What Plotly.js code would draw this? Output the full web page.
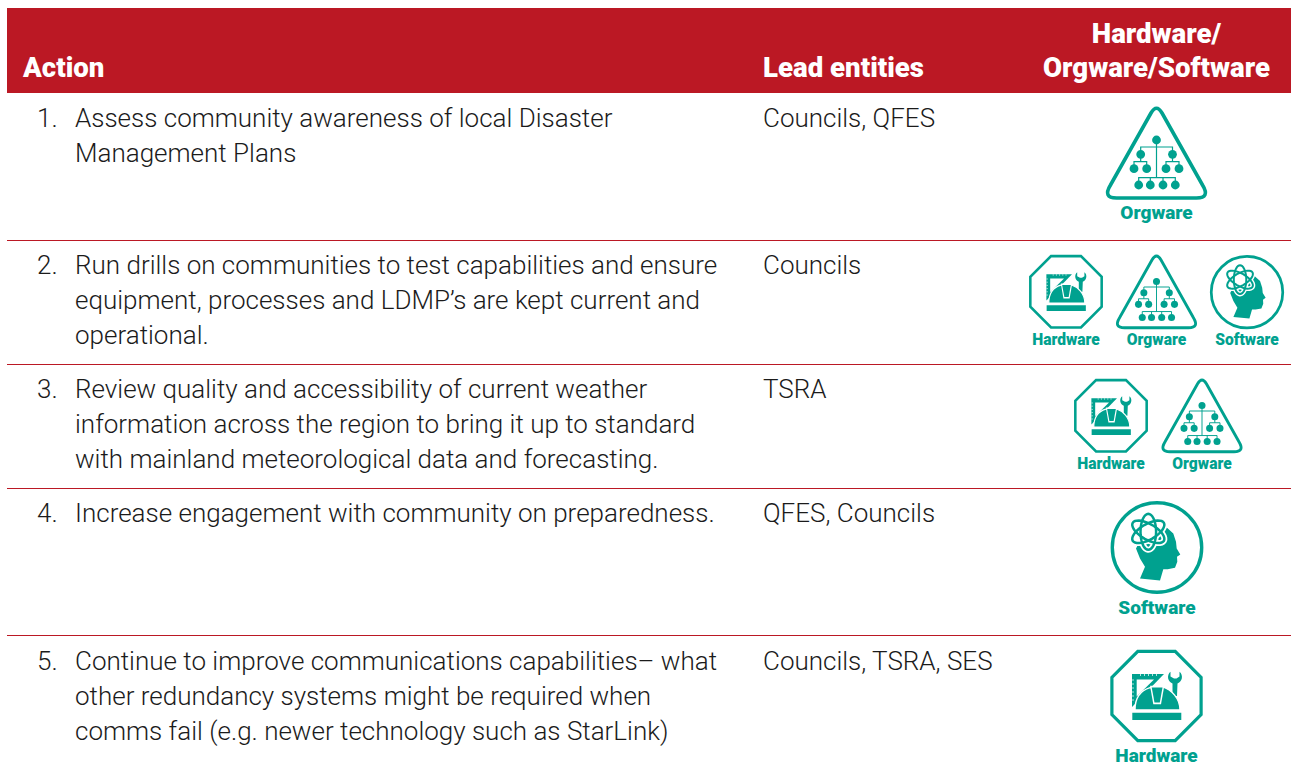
<!DOCTYPE html>
<html><head><meta charset="utf-8">
<script src="https://cdn.plot.ly/plotly-3.0.1.min.js"></script>
<style>html,body{margin:0;padding:0;background:#fff}#c{width:1291px;height:778px}</style>
</head><body><div id="c"></div>
<script>
const RED='#bb1824', TEAL='#00a18f', INK='#1b1b1b', BODY='Roboto, sans-serif', HEAD='Roboto, sans-serif';
const headers=['Action','Lead entities','Hardware/','Orgware/Software'];
const actionNumbers=['1.','2.','3.','4.','5.'];
const actionLines=[
 ['Assess community awareness of local Disaster','Management Plans'],
 ['Run drills on communities to test capabilities and ensure','equipment, processes and LDMP’s are kept current and','operational.'],
 ['Review quality and accessibility of current weather','information across the region to bring it up to standard','with mainland meteorological data and forecasting.'],
 ['Increase engagement with community on preparedness.'],
 ['Continue to improve communications capabilities– what','other redundancy systems might be required when','comms fail (e.g. newer technology such as StarLink)']];
const leadEntities=['Councils, QFES','Councils','TSRA','QFES, Councils','Councils, TSRA, SES'];
const rowTextY=[120.4,267.4,391.4,515.4,663.4];
const ruleY=[240,364,488,635];
const rowIcons=[
 [{k:'Orgware',x:1156.5,top:107,s:1,ly:214}],
 [{k:'Hardware',x:1066,top:255,s:.8,ly:341},{k:'Orgware',x:1156.5,top:255,s:.8,ly:341},{k:'Software',x:1247,top:255,s:.8,ly:341}],
 [{k:'Hardware',x:1111,top:379,s:.8,ly:465},{k:'Orgware',x:1202,top:379,s:.8,ly:465}],
 [{k:'Software',x:1157,top:501,s:1,ly:609}],
 [{k:'Hardware',x:1156.5,top:650,s:1,ly:757}]];

const shapes=[];
function xf(d,ox,oy,s){return d.replace(/(-?[\d.]+),(-?[\d.]+)/g,(m,a,b)=>(ox+a*s).toFixed(2)+','+(oy+b*s).toFixed(2));}
function P(d,ox,oy,s,o){shapes.push(Object.assign({type:'path',xref:'x',yref:'y',path:xf(d,ox,oy,s),line:{width:0,color:TEAL},fillcolor:'rgba(0,0,0,0)',layer:'above'},o));}
const fill=(c=TEAL)=>({fillcolor:c,line:{width:0}});
const stroke=(w,c=TEAL)=>({line:{width:w,color:c}});
function dot(x,y,r,ox,oy,s,c=TEAL){shapes.push({type:'circle',xref:'x',yref:'y',x0:ox+(x-r)*s,x1:ox+(x+r)*s,y0:oy+(y-r)*s,y1:oy+(y+r)*s,fillcolor:c,line:{width:0},layer:'above'});}
function ell(cx,cy,a,b,rot){const p=[];for(let i=0;i<36;i++){const t=i/36*2*Math.PI,r=rot*Math.PI/180,ex=a*Math.cos(t),ey=b*Math.sin(t);
  p.push((i?'L':'M')+(cx+ex*Math.cos(r)-ey*Math.sin(r)).toFixed(2)+','+(cy+ex*Math.sin(r)+ey*Math.cos(r)).toFixed(2));}return p.join(' ')+' Z';}

const draw={
 Orgware(ox,top,s){
  P('M-5.5,6 Q0,-3.5 5.5,6 L46,78 Q54,91 40,91 L-40,91 Q-54,91 -46,78 Z',ox,top,s,stroke(3.6*s));
  P('M0,33 L0,70.7 M-15.8,47 L-15.8,40 L16,40 L16,47 M-22.5,61 L-22.5,54.7 L-9.8,54.7 L-9.8,61 M9.5,61 L9.5,54.7 L22.5,54.7 L22.5,61 M-15.8,47 L-15.8,54.7 M16,47 L16,54.7 M-17.8,78 L-17.8,70.7 L18.8,70.7 L18.8,78 M-6.2,70.7 L-6.2,78 M6.5,70.7 L6.5,78',ox,top,s,stroke(1.2*s));
  [[0,33],[-15.8,47.3],[16,47.3],[-22.5,61.7],[-9.8,61.7],[9.5,61.7],[22.5,61.7],[-17.8,78],[-6.2,78],[6.5,78],[18.8,78]].forEach(n=>dot(n[0],n[1],4.4,ox,top,s));
 },
 Hardware(ox,top,s){
  const cy=top+46*s;
  P('M-18.7,-44.6 L18.7,-44.6 L44.6,-18.7 L44.6,18.7 L18.7,44.6 L-18.7,44.6 L-44.6,18.7 L-44.6,-18.7 Z',ox,cy,s,stroke(3.2*s));
  P('M-24.5,-22 L7.5,-22 L-24.5,11 Z',ox,cy,s,fill());
  P('M-19.8,-16.5 L-2.5,-16.5 L-19.8,0.5 Z',ox,cy,s,fill('#fff'));
  P('M-24.5,-16 L-22.5,-16 M-24.5,-12 L-22.5,-12 M-24.5,-8 L-22.5,-8 M-24.5,-4 L-22.5,-4 M-24.5,0 L-22.5,0 M-24.5,4 L-22.5,4 M-16,-22 L-16,-20 M-12,-22 L-12,-20 M-8,-22 L-8,-20 M-4,-22 L-4,-20 M0,-22 L0,-20',ox,cy,s,stroke(.7*s,'#fff'));
  P('M14,-24.3 L14,-19.5 L17.5,-17.5 L20,-17.5 L23,-19.5 L23,-24.3 C27,-21 26,-14.5 21,-12.5 L20.5,0 L16,0 L16,-12.5 C11,-14.5 10,-21 14,-24.3 Z',ox,cy,s,fill());
  P('M-21.5,14 C-21.5,0 -14,-6 -6.5,-8.3 L5.8,-9.3 C15,-6 23.5,2 23.5,14 Z',ox,cy,s,Object.assign(fill(),{line:{width:1.4*s,color:'#fff'}}));
  P('M-6.5,-10.3 L7.8,-10.3 L4.5,8.3 L-3.2,8.3 Z',ox,cy,s,fill('#fff'));
  P('M-4.8,-8.5 L6,-8.5 L3.3,6.6 L-2,6.6 Z',ox,cy,s,fill());
  P('M-24.2,16.7 L24.8,16.7 L24.8,24 L-24.2,24 Z',ox,cy,s,fill());
 },
 Software(ox,top,s){
  const cy=top+46.5*s;
  shapes.push({type:'circle',xref:'x',yref:'y',x0:ox-44.7*s,x1:ox+44.7*s,y0:cy-44.7*s,y1:cy+44.7*s,line:{width:3.4*s,color:TEAL},layer:'above'});
  P('M9.7,-20 L16.3,-14 L19,-5.7 L19.7,1 L23.3,7 L20,9.3 L20.3,14.3 L18,20.3 L10.7,21.7 L6.3,21.7 L3,33 L-17,31 L-12,19.3 L-17,11 L-21,1 L-10,-20 Z',ox,cy,s,fill());
  [30,90,150].forEach(r=>P(ell(-8.7,-15.7,18,7.8,r),ox,cy,s,stroke(6*s,'#fff')));
  dot(-8.7,-15.7,10,ox,cy,s,'#fff');
  [30,90,150].forEach(r=>P(ell(-8.7,-15.7,18,7.8,r),ox,cy,s,stroke(2.5*s)));
 }
};
shapes.push({type:'rect',xref:'x',yref:'y',x0:7,x1:1291,y0:8,y1:93,fillcolor:RED,line:{width:0},layer:'below'});
ruleY.forEach(y=>shapes.push({type:'line',xref:'x',yref:'y',x0:7,x1:1291,y0:y+.5,y1:y+.5,line:{width:1,color:RED},layer:'below'}));
const labX=[],labY=[],labT=[],labS=[];
rowIcons.forEach(r=>r.forEach(i=>{draw[i.k](i.x,i.top,i.s);labX.push(i.x);labY.push(i.ly);labT.push(i.k);labS.push(i.s==1?19:15.6);}));

const bx=[],by=[],bt=[];
actionLines.forEach((ls,r)=>{
  bx.push(37);by.push(rowTextY[r]);bt.push(actionNumbers[r]);
  ls.forEach((l,i)=>{bx.push(75);by.push(rowTextY[r]+i*34.9);bt.push(l);});
  bx.push(763);by.push(rowTextY[r]);bt.push(leadEntities[r]);
});
const common={type:'scatter',mode:'text',hoverinfo:'skip',showlegend:false,cliponaxis:false};
const data=[
 Object.assign({},common,{x:bx,y:by,text:bt,textposition:'middle right',textfont:{family:BODY,size:26,color:INK,weight:300}}),
 Object.assign({},common,{x:[23,763],y:[70,70],text:[headers[0],headers[1]],textposition:'middle right',textfont:{family:HEAD,size:27.6,color:'#fff',weight:900}}),
 Object.assign({},common,{x:[1156.5,1156.5],y:[36,70],text:[headers[2],headers[3]],textposition:'middle center',textfont:{family:HEAD,size:27.6,color:'#fff',weight:900}}),
 Object.assign({},common,{x:labX,y:labY,text:labT,textposition:'middle center',textfont:{family:HEAD,size:labS,color:TEAL,weight:900}})
];
const hidden={visible:false,fixedrange:true,autorange:false};
Plotly.newPlot('c',data,{width:1291,height:778,margin:{l:0,r:0,t:0,b:0},paper_bgcolor:'#fff',plot_bgcolor:'#fff',
 xaxis:Object.assign({range:[0,1291]},hidden),yaxis:Object.assign({range:[778,0]},hidden),shapes:shapes},{staticPlot:true,displayModeBar:false});
</script></body></html>
